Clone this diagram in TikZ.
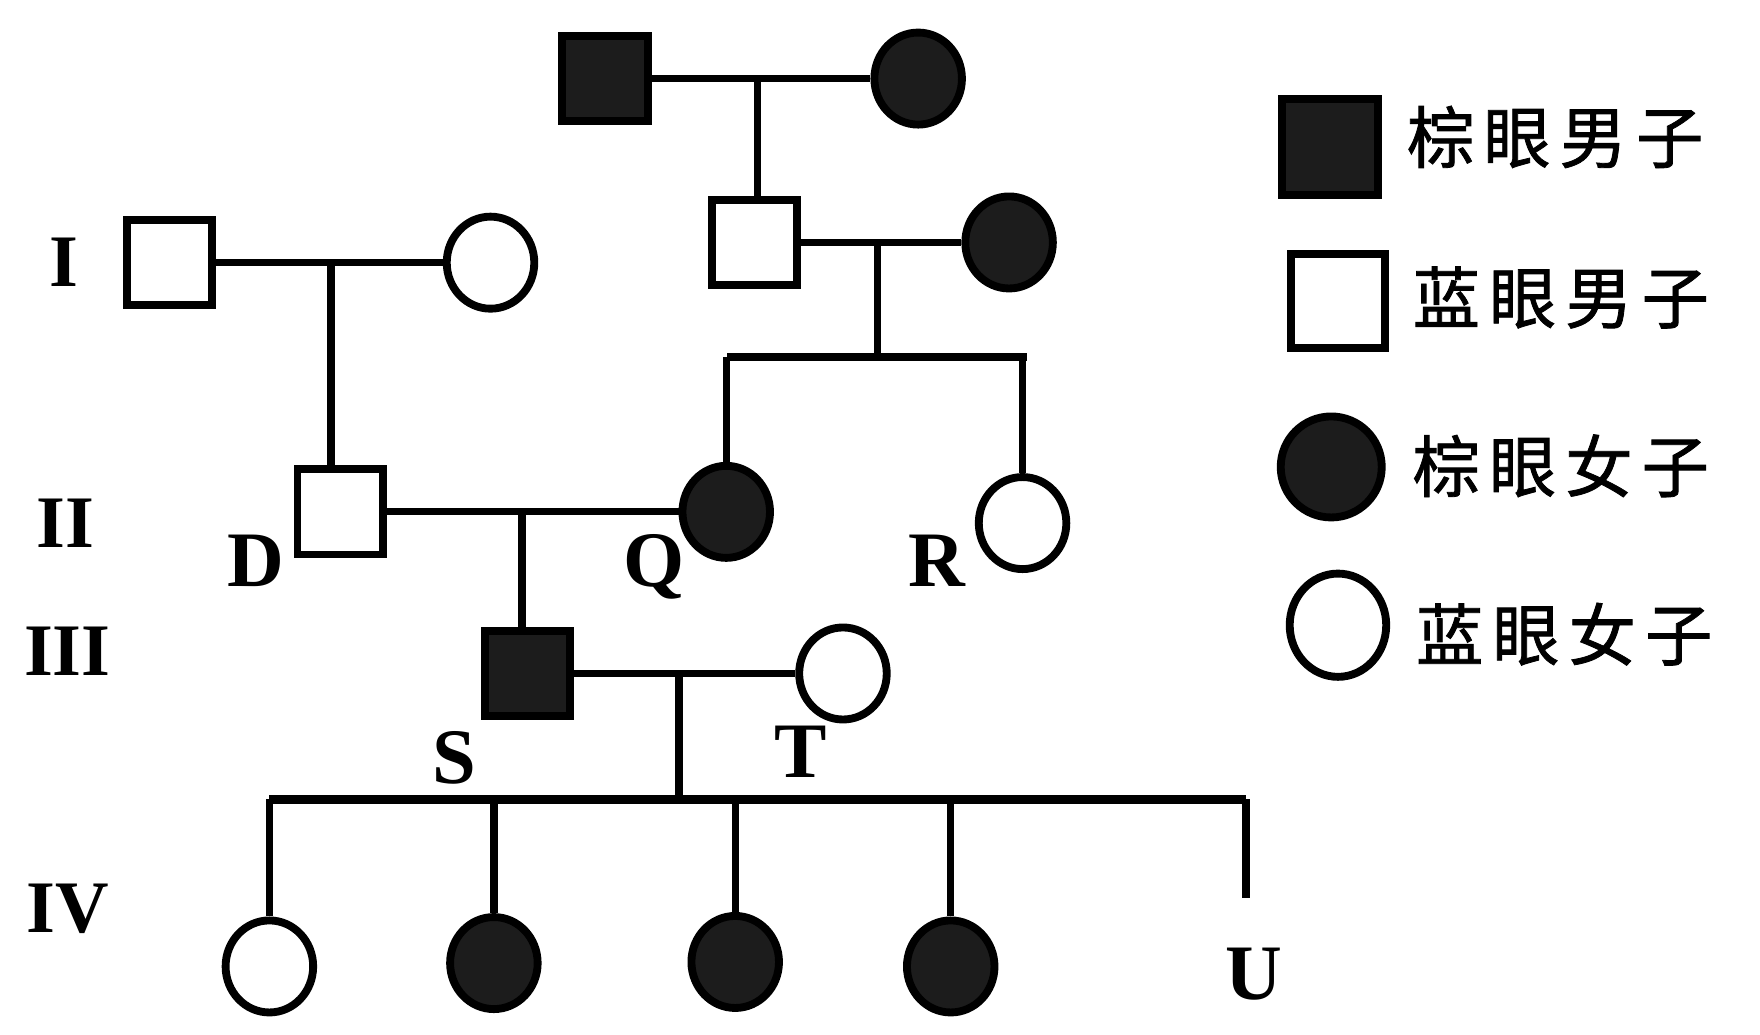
\documentclass[tikz,border=0pt]{standalone}
\usepackage{fontspec}
\setmainfont{Liberation Serif}
\newfontfamily\cjk[UprightFeatures={FakeBold=1.2}]{Noto Sans CJK SC}
\usetikzlibrary{shapes.geometric}
\definecolor{browneye}{HTML}{1C1C1C}
\newcommand{\legtext}[4]{#1\hspace{8pt}#2\hspace{8pt}#3\hspace{8pt}#4}
\tikzset{
  person/.style={draw, line width=7pt, inner sep=0pt, fill=white},
  male/.style={person, rectangle, minimum size=76pt},
  female/.style={person, ellipse, minimum width=78pt, minimum height=82pt},
  brownmale/.style={male, fill=browneye},
  brownfemale/.style={female, fill=browneye},
  link/.style={line width=6.5pt},
  gen/.style={font=\fontsize{66}{70}\selectfont\bfseries},
  tag/.style={font=\fontsize{70}{72}\selectfont\bfseries},
  key/.style={font=\cjk\fontsize{60}{64}\selectfont, anchor=west},
}

\begin{document}
\begin{tikzpicture}[x=1pt, y=-1pt]
    \useasboundingbox (0,0) rectangle (1568,922);
    \node[brownmale] (gf) at (539, 70) {};
    \node[brownfemale] (gm) at (818, 70) {};
    \node[male] (i1) at (151, 234) {};
    \node[female] (i2) at (437, 234) {};
    \node[male] (i3) at (672, 216) {};
    \node[brownfemale] (i4) at (899, 216) {};
    \node[male] (D) at (303, 456) {};
    \node[brownfemale] (Q) at (647, 456) {};
    \node[female] (R) at (911, 466) {};
    \node[brownmale] (S) at (470, 600) {};
    \node[female] (T) at (751, 600) {};
    \node[female] (c1) at (240, 861) {};
    \node[brownfemale] (c2) at (440, 858) {};
    \node[brownfemale] (c3) at (655, 857) {};
    \node[brownfemale] (c4) at (847, 861) {};
    \coordinate (u) at (1110, 800);
    \coordinate (m0) at (675, 70);
    \coordinate (m1) at (295, 234);
    \coordinate (m2) at (782, 216);
    \coordinate (m3) at (465, 456);
    \coordinate (m4) at (605, 600);
    \coordinate (b2l) at (648, 318);
    \coordinate (b2r) at (915, 318);
    \coordinate (b4l) at (240, 712);
    \coordinate (b4r) at (1110, 712);
    \draw[link] (gf) -- (gm);
    \draw[link] (i1) -- (i2);
    \draw[link] (i3) -- (i4);
    \draw[link] (D) -- (Q);
    \draw[link] (S) -- (T);
    \draw[link] (m0) -- (m0 |- i3.north);
    \draw[link] (m1) -- (m1 |- D.north);
    \draw[link] (m2) -- (m2 |- b2l);
    \draw[link] (m3) -- (m3 |- S.north);
    \draw[link] (m4) -- (m4 |- b4l);
    \draw[line width=7.5pt] (b2l) -- (b2r);
    \draw[link] (Q |- b2l) -- (Q.north);
    \draw[link] (R |- b2l) -- (R.north);
    \draw[line width=8pt] (b4l) -- (b4r);
    \foreach \n in {c1,c2,c3,c4}
      \draw[link] (\n |- b4l) -- (\n.north);
    \draw[link] (b4r) -- (u);
    \node[gen] (g1) at (57, 234) {I};
    \node[gen] (g2) at (58, 466) {II};
    \node[gen] (g3) at (60, 580) {III};
    \node[gen] (g4) at (60, 810) {IV};
    \node[tag] (tD) at (228, 500) {D};
    \node[tag] (tQ) at (583, 505) {Q};
    \node[tag] (tR) at (835, 500) {R};
    \node[tag] (tS) at (405, 675) {S};
    \node[tag] (tT) at (713, 670) {T};
    \node[tag] (tU) at (1117, 868) {U};
    \node[brownmale, minimum size=86pt] (k1) at (1185, 131) {};
    \node[male, minimum size=84pt] (k2) at (1192, 268) {};
    \node[brownfemale, minimum width=90pt, minimum height=90pt] (k3) at (1186, 416) {};
    \node[female, minimum width=86pt, minimum height=92pt] (k4) at (1192, 557) {};
    \node[key] (t1) at (1250, 122) {\legtext{棕}{眼}{男}{子}};
    \node[key] (t2) at (1255, 265) {\legtext{蓝}{眼}{男}{子}};
    \node[key] (t3) at (1255, 415) {\legtext{棕}{眼}{女}{子}};
    \node[key] (t4) at (1258, 565) {\legtext{蓝}{眼}{女}{子}};
  \end{tikzpicture}
\end{document}
